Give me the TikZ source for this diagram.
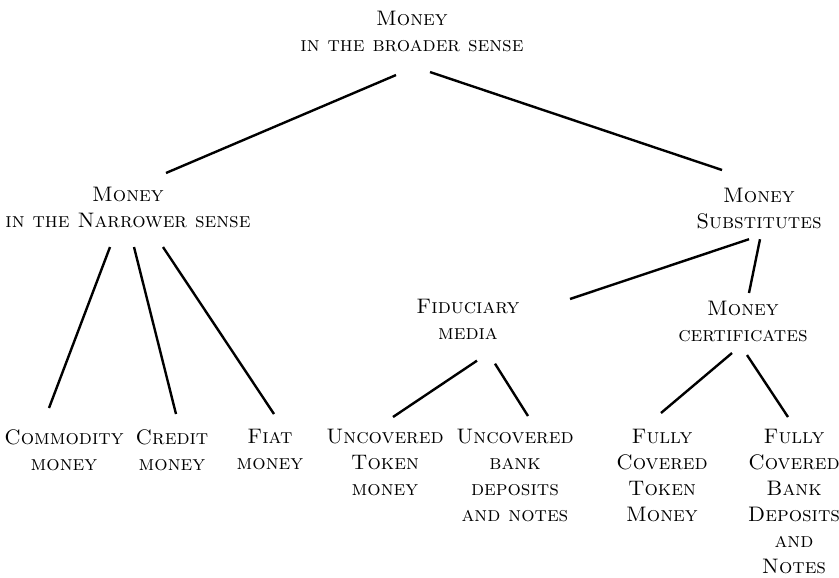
\documentclass[tikz,border=0pt]{standalone}
\usepackage{fontspec}

\begin{document}
\begin{tikzpicture}[x=1pt, y=-1pt, line width=2.4pt,
		every node/.style={inner sep=0pt, anchor=north, align=center,
			font=\fontsize{21}{26}\selectfont\scshape}]
		\useasboundingbox (0,0) rectangle (839,578);
		% top and middle level
		\node (money) at (412,10) {Money\\in the broader sense};
		\node (narrow) at (128,186) {Money\\in the Narrower sense};
		\node (subst) at (759,187) {Money\\Substitutes};
		\node (fid) at (468,298) {Fiduciary\\media};
		\node (cert) at (743,300) {Money\\certificates};
		% bottom level
		\node (comm) at (64,428) {Commodity\\money};
		\node (credit) at (172,428) {Credit\\money};
		\node (fiat) at (270,428) {Fiat\\money};
		\node (untok) at (385,428) {Uncovered\\Token\\money};
		\node (unbank) at (515,428) {Uncovered\\bank\\deposits\\and notes};
		\node (fulltok) at (662,428) {Fully\\Covered\\Token\\Money};
		\node (fullbank) at (794,428) {Fully\\Covered\\Bank\\Deposits\\and\\Notes};
		\draw ([shift={(-16,22)}]money.south) -- ([shift={(38,-13)}]narrow.north);
		\draw ([shift={(18,19)}]money.south) -- ([shift={(-37,-17)}]subst.north);
		\draw ([shift={(-18,18)}]narrow.south) -- ([shift={(-15,-20)}]comm.north);
		\draw ([shift={(6,18)}]narrow.south) -- ([shift={(4,-14)}]credit.north);
		\draw ([shift={(35,18)}]narrow.south) -- ([shift={(4,-14)}]fiat.north);
		\draw ([shift={(-10,9)}]subst.south) -- ([shift={(102,1)}]fid.north);
		\draw ([shift={(1,9)}]subst.south) -- ([shift={(6,-7)}]cert.north);
		\draw ([shift={(9,20)}]fid.south) -- ([shift={(8,-11)}]untok.north);
		\draw ([shift={(27,23)}]fid.south) -- ([shift={(13,-12)}]unbank.north);
		\draw ([shift={(-11,10)}]cert.south) -- ([shift={(-1,-15)}]fulltok.north);
		\draw ([shift={(4,12)}]cert.south) -- ([shift={(-6,-11)}]fullbank.north);
	\end{tikzpicture}
\end{document}
